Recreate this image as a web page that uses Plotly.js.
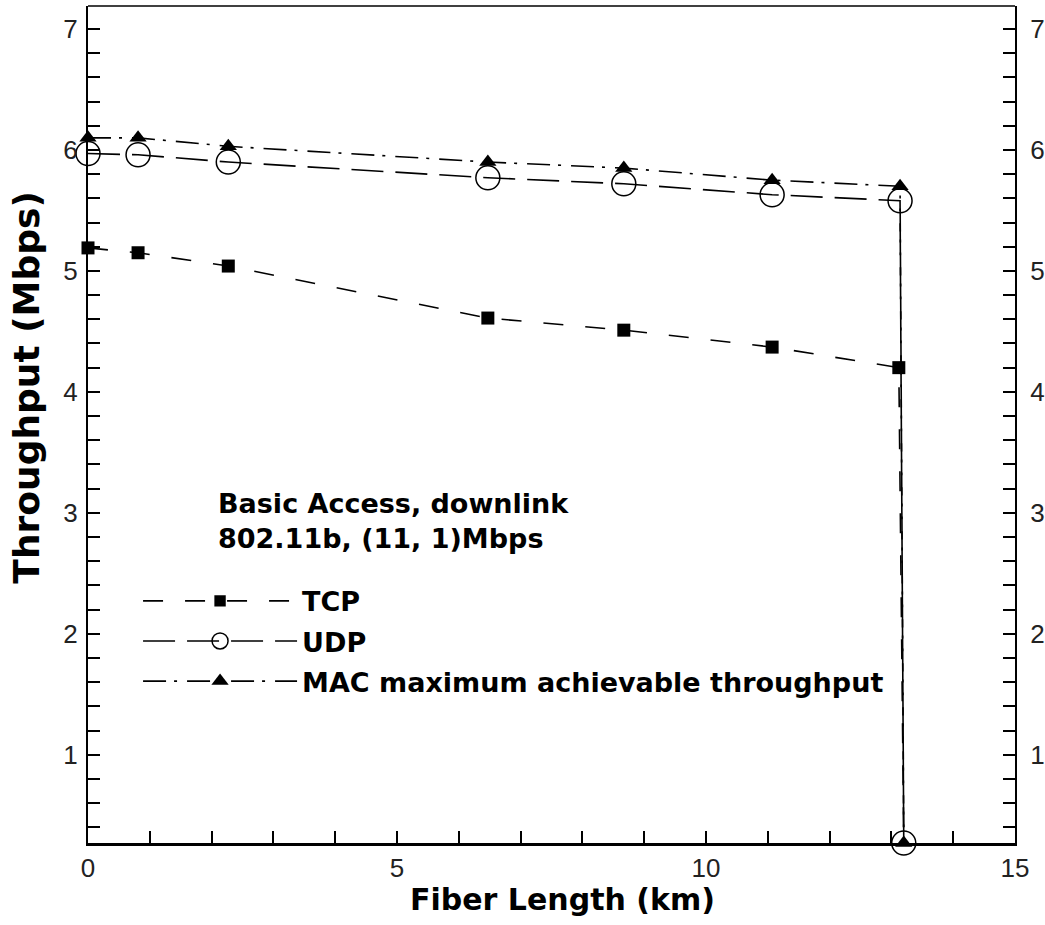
<!DOCTYPE html>
<html>
<head>
<meta charset="utf-8">
<script src="https://cdn.plot.ly/plotly-3.0.1.min.js"></script>
<style>html,body{margin:0;padding:0;background:#fff;}#chart{width:1045px;height:925px;}</style>
</head>
<body>
<div id="chart"></div>
<script>
// Fiber length (km)
const xTCP = [0, 0.81, 2.27, 6.47, 8.67, 11.07, 13.12, 13.2];
const xUDP = [0, 0.81, 2.27, 6.47, 8.67, 11.07, 13.14, 13.2];
const xMAC = [0, 0.81, 2.27, 6.47, 8.67, 11.07, 13.14, 13.2];
// Throughput (Mbps)
const yTCP = [5.19, 5.15, 5.04, 4.61, 4.51, 4.37, 4.20, 0.27];
const yUDP = [5.97, 5.96, 5.90, 5.77, 5.72, 5.63, 5.58, 0.27];
const yMAC = [6.10, 6.10, 6.03, 5.90, 5.85, 5.75, 5.70, 0.27];
const seriesNames = ["TCP", "UDP", "MAC maximum achievable throughput"];
const noteLines = ["Basic Access, downlink", "802.11b, (11, 1)Mbps"];
const xTitle = "Fiber Length (km)";
const yTitle = "Throughput (Mbps)";

const boldFont = {family: "DejaVu Sans", weight: "bold", color: "#000"};
const tickFont = {family: "Liberation Sans, Arial, sans-serif", size: 26, color: "#222"};

// the TCP marker at the bottom is hidden under the other markers in the reference
const tcpSizes = xTCP.map((_, i) => (i === xTCP.length - 1 ? 0 : 13));

const traces = [
  {x: xTCP, y: yTCP, name: seriesNames[0], legendgroup: "a", mode: "lines+markers", cliponaxis: false,
   line: {color: "#000", width: 1.6, dash: "20px,22px"},
   marker: {symbol: "square", size: tcpSizes, sizemode: "diameter", sizeref: 1, opacity: 1, color: "#000",
            line: {width: 0, color: "#000"}}},
  {x: xUDP, y: yUDP, name: seriesNames[1], legendgroup: "b", mode: "lines+markers", cliponaxis: false,
   line: {color: "#000", width: 1.6, dash: "32px,12px"},
   marker: {symbol: "circle-open", size: 24, color: "#000", line: {width: 1.5, color: "#000"}}},
  {x: xMAC, y: yMAC, name: seriesNames[2], legendgroup: "c", mode: "lines+markers", cliponaxis: false,
   yaxis: "y2",
   line: {color: "#000", width: 1.6, dash: "23px,8px,3px,10px"},
   marker: {symbol: "triangle-up", size: 15, color: "#000"}}
];

const yRange = [0.27, 7.19];
const commonY = {
  range: yRange, dtick: 1, tick0: 0, ticks: "inside", ticklen: 12, tickwidth: 2, tickcolor: "#000",
  showline: true, linewidth: 2, linecolor: "#000", showgrid: false, zeroline: false,
  tickfont: tickFont, fixedrange: true, ticklabelstandoff: 3,
  minor: {dtick: 0.2, tick0: 0, ticks: "inside", ticklen: 12, tickwidth: 2, tickcolor: "#000", showgrid: false}
};

const layout = {
  width: 1045, height: 925,
  margin: {l: 88, r: 30, t: 6, b: 82},
  paper_bgcolor: "#fff", plot_bgcolor: "#fff",
  showlegend: true,
  xaxis: {
    range: [0, 15], dtick: 5, tick0: 0, ticks: "inside", ticklen: 12, tickwidth: 2, tickcolor: "#000",
    showline: true, linewidth: 3, linecolor: "#000", showgrid: false, zeroline: false,
    tickfont: tickFont,
    minor: {dtick: 1, tick0: 0, ticks: "inside", ticklen: 12, tickwidth: 2, tickcolor: "#000", showgrid: false}
  },
  yaxis: Object.assign({}, commonY),
  yaxis2: Object.assign({}, commonY, {overlaying: "y", side: "right", anchor: "x", ticklabelstandoff: 8}),
  legend: {
    x: 0.054, y: 0.318, xanchor: "left", yanchor: "top",
    bgcolor: "rgba(0,0,0,0)", borderwidth: 0,
    itemwidth: 154, tracegroupgap: 2,
    font: Object.assign({size: 27}, boldFont)
  },
  shapes: [
    {type: "line", xref: "paper", yref: "paper", x0: 0, x1: 1, y0: 1, y1: 1, line: {color: "#000", width: 1.5}}
  ],
  annotations: [
    {text: noteLines.join("<br>"), x: 2.07, y: 2.934, xref: "x", yref: "y", xanchor: "left", yanchor: "middle",
     align: "left", showarrow: false, font: Object.assign({size: 27}, boldFont)},
    {text: xTitle, x: 0.5119, y: -0.0681, xref: "paper", yref: "paper", xanchor: "center", yanchor: "middle",
     showarrow: false, font: Object.assign({size: 30}, boldFont)},
    {text: yTitle, x: -0.0667, y: 0.5442, xref: "paper", yref: "paper", xanchor: "center", yanchor: "middle",
     textangle: -90, showarrow: false, font: Object.assign({size: 36}, boldFont)}
  ]
};

Plotly.newPlot("chart", traces, layout, {displayModeBar: false, staticPlot: true});
</script>
</body>
</html>
